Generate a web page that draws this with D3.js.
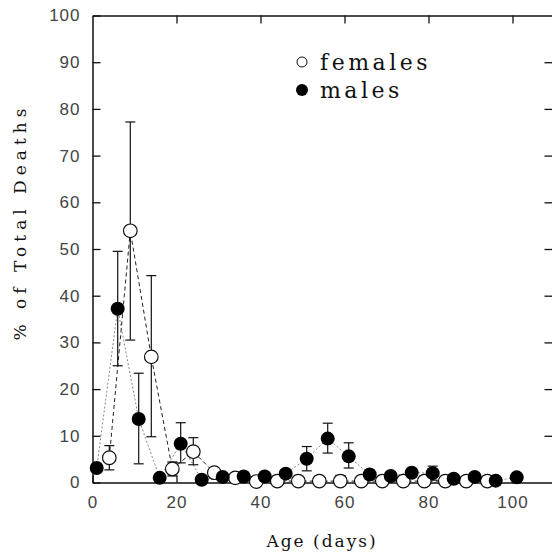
<!DOCTYPE html>
<html>
<head>
<meta charset="utf-8">
<script src="https://cdn.jsdelivr.net/npm/d3@7"></script>
<style>
    body { margin: 0; background: #fff; }
    svg { display: block; }
</style>
</head>
<body>
<div id="chart"></div>
<script>
// age (days) of each sample
const maleDays = [1, 6, 11, 16, 21, 26, 31, 36, 41, 46, 51, 56, 61, 66, 71, 76, 81, 86, 91, 96, 101];
const maleValues = [3.1, 37.2, 13.6, 1.0, 8.3, 0.6, 1.2, 1.3, 1.3, 1.9, 5.1, 9.4, 5.6, 1.7, 1.4, 2.1, 2.0, 0.8, 1.2, 0.4, 1.1];
const maleErrHigh = [null, 49.5, 23.4, null, 12.8, null, null, null, null, null, 7.7, 12.7, 8.5, null, null, null, 3.5, null, null, null, null];
const maleErrLow = [null, 25.0, 4.0, null, 4.2, null, null, null, null, null, 2.5, 6.3, 3.1, null, null, null, 0.5, null, null, null, null];

const femaleDays = [4, 9, 14, 19, 24, 29, 34, 39, 44, 49, 54, 59, 64, 69, 74, 79, 84, 89, 94];
const femaleValues = [5.3, 53.9, 26.9, 2.9, 6.6, 2.1, 1.0, 0.2, 0.3, 0.3, 0.3, 0.3, 0.3, 0.3, 0.3, 0.3, 0.3, 0.3, 0.3];
const femaleErrHigh = [7.9, 77.2, 44.3, 4.4, 9.6, null, null, null, null, null, null, 1.5, null, null, null, null, null, null, null];
const femaleErrLow = [2.7, 30.5, 9.8, 1.4, 3.8, null, null, null, null, null, null, 0, null, null, null, null, null, null, null];

const xTicks = [0, 20, 40, 60, 80, 100];
const yTicks = [0, 10, 20, 30, 40, 50, 60, 70, 80, 90, 100];

let makeSeries = (days, values, hi, lo) => days.map((d, i) => ({
    day: d, value: values[i], hi: hi[i], lo: lo[i]
}));

let drawChart = () => {
    const width = 552, height = 554;
    const left = 92.5, right = 554.5, top = 15.5, bottom = 482.5;

    const svg = d3.select('#chart')
        .append('svg')
        .attr('width', width)
        .attr('height', height);

    const x = d3.scaleLinear().domain([0, 110]).range([left, right]);
    const y = d3.scaleLinear().domain([0, 100]).range([bottom, top]);

    const tickFont = (g) => {
        g.selectAll('text')
            .attr('font-family', 'Liberation Sans, Arial, sans-serif')
            .attr('font-size', '17px')
            .attr('letter-spacing', '1px')
            .attr('fill', '#444');
        g.selectAll('line').attr('stroke', '#111').attr('stroke-width', 1.3);
        g.select('.domain').attr('stroke', '#111').attr('stroke-width', 1.5);
    };

    // frame, ticks point inward on every side
    svg.append('g')
        .attr('transform', `translate(0,${bottom})`)
        .call(d3.axisBottom(x).tickValues(xTicks).tickSize(-7).tickSizeOuter(0).tickPadding(13))
        .call(tickFont);
    svg.append('g')
        .attr('transform', `translate(${left},0)`)
        .call(d3.axisLeft(y).tickValues(yTicks).tickSize(-8).tickSizeOuter(0).tickPadding(12))
        .call(tickFont);
    svg.append('g')
        .attr('transform', `translate(0,${top})`)
        .call(d3.axisTop(x).tickValues(xTicks.slice(1)).tickSize(-8).tickSizeOuter(0).tickFormat(''))
        .call(tickFont);
    svg.append('g')
        .attr('transform', `translate(${right - 2},0)`)
        .call(d3.axisRight(y).tickValues(yTicks.slice(1, -1)).tickSize(-8).tickSizeOuter(0).tickFormat(''))
        .call(tickFont);

    const males = makeSeries(maleDays, maleValues, maleErrHigh, maleErrLow);
    const females = makeSeries(femaleDays, femaleValues, femaleErrHigh, femaleErrLow);

    const line = d3.line().x(d => x(d.day)).y(d => y(d.value));

    svg.append('path')
        .datum(males)
        .attr('d', line)
        .attr('fill', 'none')
        .attr('stroke', '#888')
        .attr('stroke-width', 1)
        .attr('stroke-dasharray', '2,2');

    svg.append('path')
        .datum(females)
        .attr('d', line)
        .attr('fill', 'none')
        .attr('stroke', '#222')
        .attr('stroke-width', 1)
        .attr('stroke-dasharray', '4,3');

    // error bars with caps
    let drawErrors = (data) => {
        const withErr = data.filter(d => d.hi !== null);
        const g = svg.append('g').attr('stroke', '#111').attr('stroke-width', 1.2);
        g.selectAll('line.bar')
            .data(withErr)
            .join('line')
            .attr('class', 'bar')
            .attr('x1', d => x(d.day)).attr('x2', d => x(d.day))
            .attr('y1', d => y(d.hi)).attr('y2', d => y(d.lo));
        g.selectAll('line.capHi')
            .data(withErr)
            .join('line')
            .attr('class', 'capHi')
            .attr('x1', d => x(d.day) - 5).attr('x2', d => x(d.day) + 5)
            .attr('y1', d => y(d.hi)).attr('y2', d => y(d.hi));
        g.selectAll('line.capLo')
            .data(withErr.filter(d => d.lo > 0))
            .join('line')
            .attr('class', 'capLo')
            .attr('x1', d => x(d.day) - 5).attr('x2', d => x(d.day) + 5)
            .attr('y1', d => y(d.lo)).attr('y2', d => y(d.lo));
    };
    drawErrors(males);
    drawErrors(females);

    svg.append('g')
        .selectAll('circle')
        .data(females)
        .join('circle')
        .attr('cx', d => x(d.day))
        .attr('cy', d => y(d.value))
        .attr('r', 6.8)
        .attr('fill', '#fff')
        .attr('stroke', '#111')
        .attr('stroke-width', 1.2);

    svg.append('g')
        .selectAll('circle')
        .data(males)
        .join('circle')
        .attr('cx', d => x(d.day))
        .attr('cy', d => y(d.value))
        .attr('r', 7)
        .attr('fill', '#000');

    // legend
    const legend = svg.append('g').attr('transform', 'translate(302,0)');
    legend.append('circle')
        .attr('cx', 0).attr('cy', 62).attr('r', 5)
        .attr('fill', '#fff').attr('stroke', '#111').attr('stroke-width', 1);
    legend.append('circle')
        .attr('cx', 0).attr('cy', 90).attr('r', 6)
        .attr('fill', '#000');
    legend.selectAll('text')
        .data(['females', 'males'])
        .join('text')
        .attr('x', 18)
        .attr('y', (d, i) => 70 + i * 28)
        .attr('font-family', 'DejaVu Serif, serif')
        .attr('font-size', '22px')
        .attr('letter-spacing', '3.5px')
        .attr('fill', '#111')
        .text(d => d);

    // axis titles
    svg.append('text')
        .attr('x', 322)
        .attr('y', 547)
        .attr('text-anchor', 'middle')
        .attr('font-family', 'DejaVu Serif, serif')
        .attr('font-size', '17px')
        .attr('letter-spacing', '2px')
        .attr('fill', '#111')
        .text('Age (days)');

    svg.append('text')
        .attr('transform', 'translate(26,222) rotate(-90)')
        .attr('text-anchor', 'middle')
        .attr('font-family', 'DejaVu Serif, serif')
        .attr('font-size', '17px')
        .attr('letter-spacing', '5px')
        .attr('fill', '#111')
        .text('% of Total Deaths');
};

drawChart();
</script>
</body>
</html>
